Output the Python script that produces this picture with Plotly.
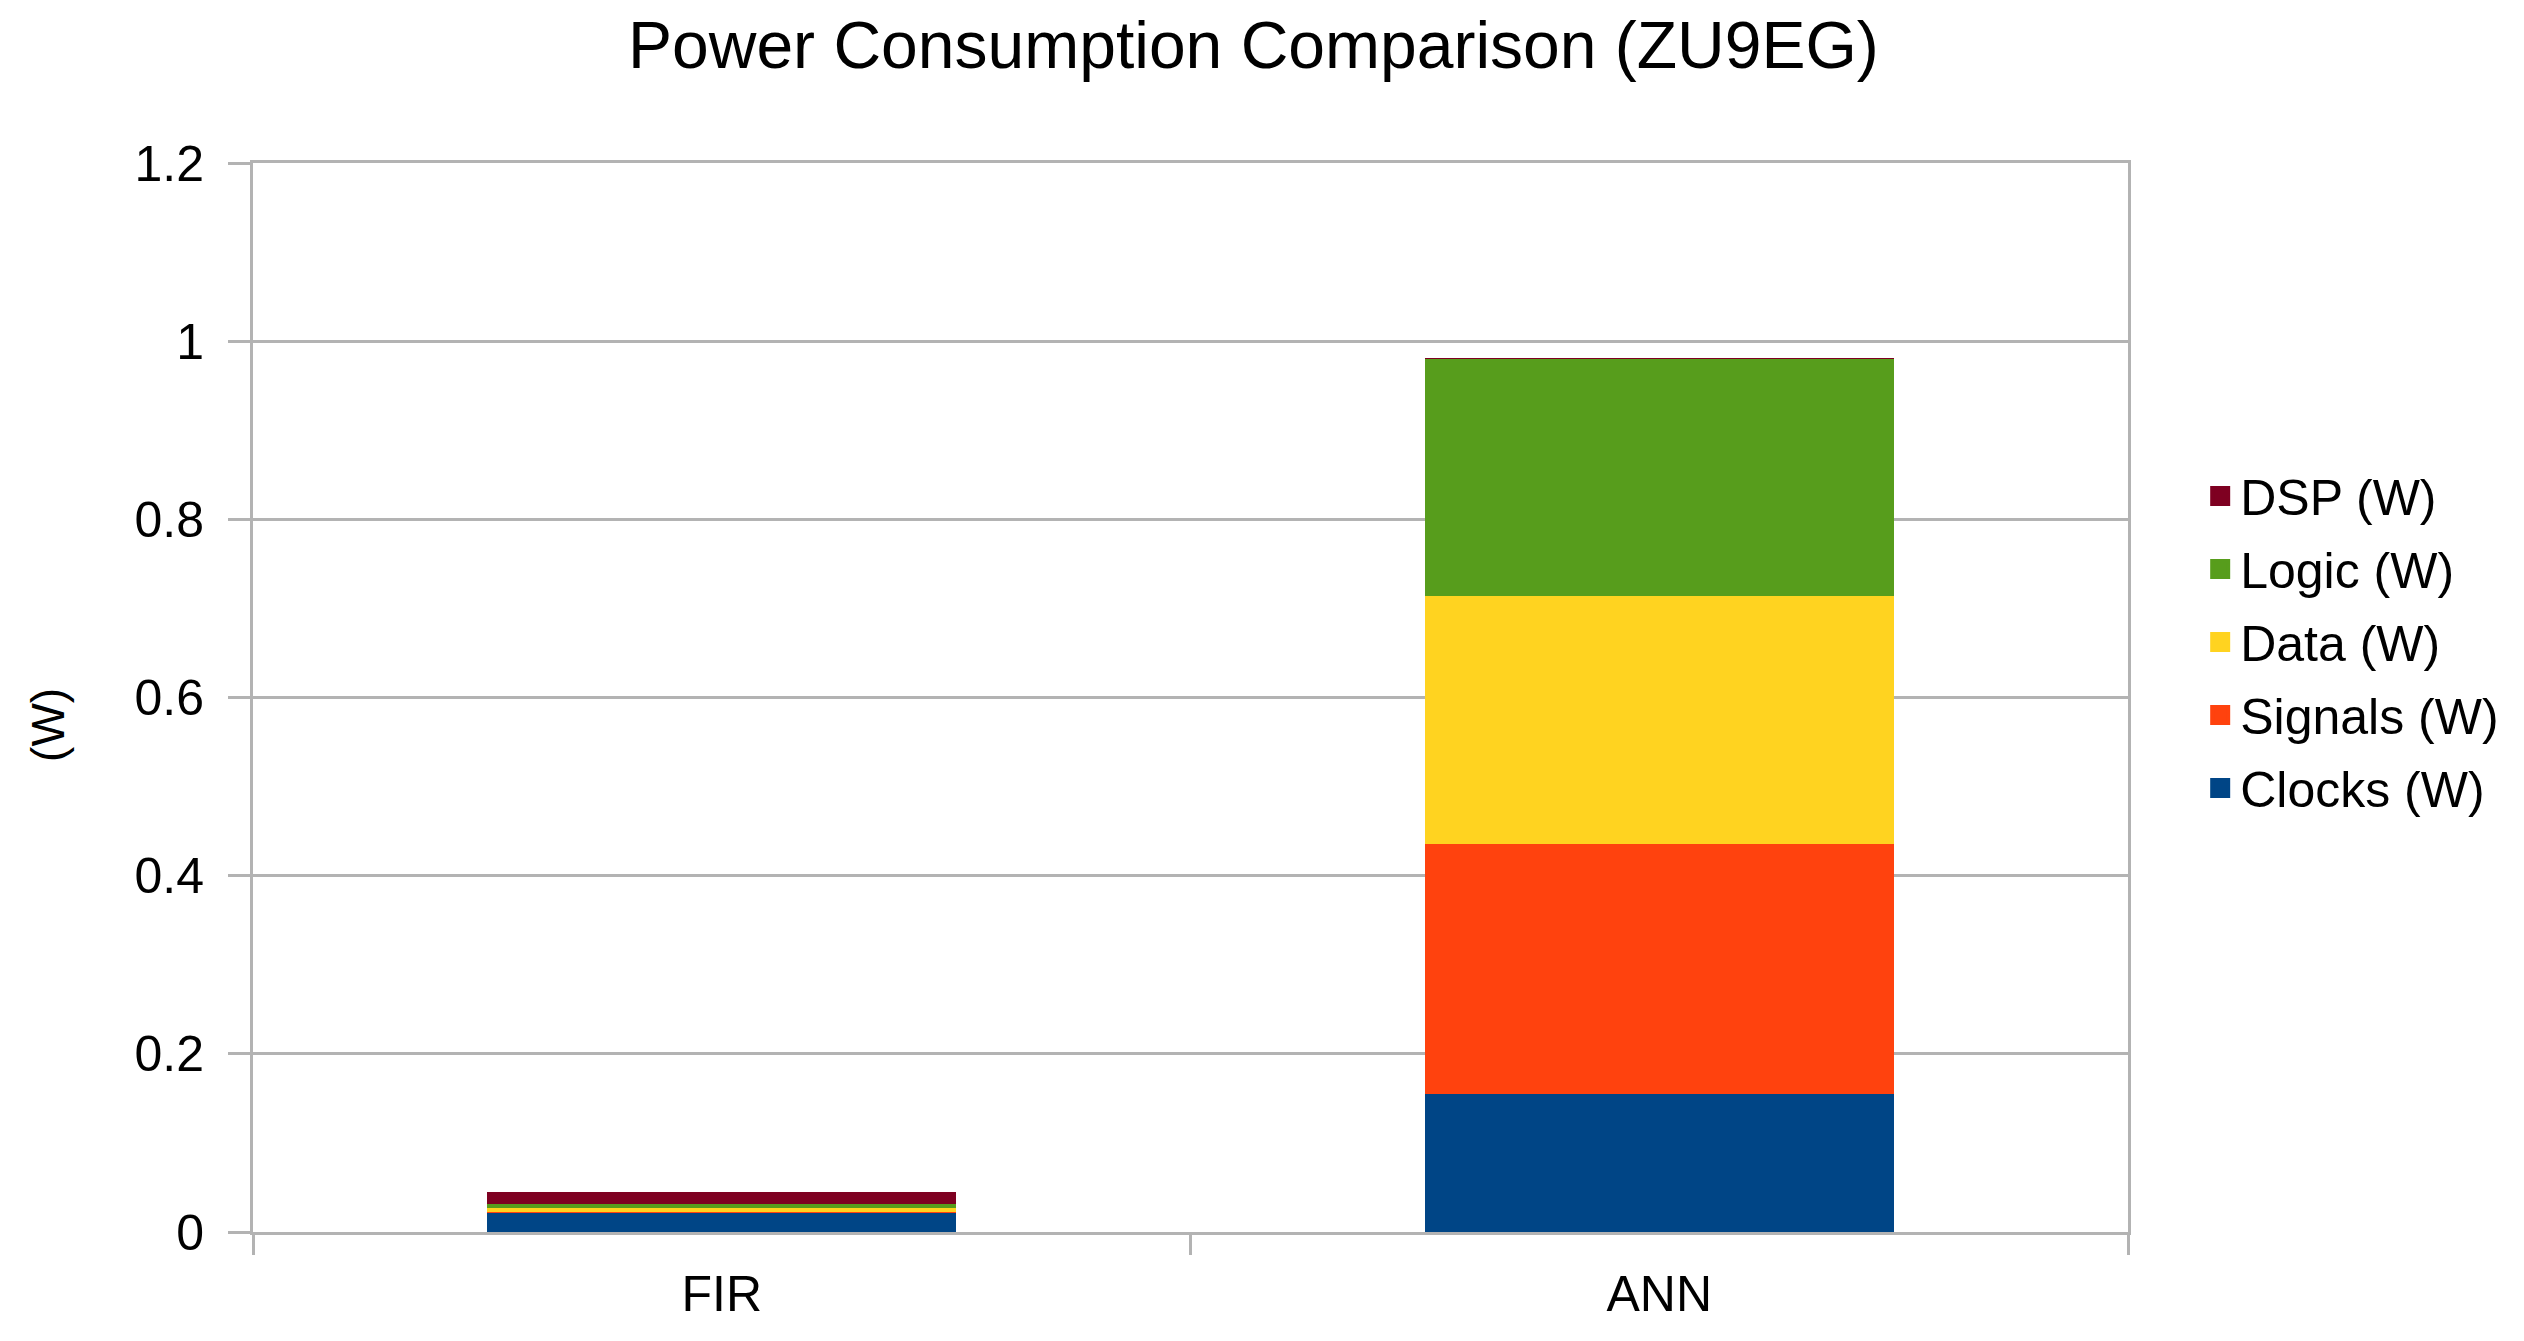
import plotly.graph_objects as go

categories = ["FIR", "ANN"]
series_names = ["Clocks (W)", "Signals (W)", "Data (W)", "Logic (W)", "DSP (W)"]
clocks = [0.022, 0.155]
signals = [0.001, 0.281]
data = [0.004, 0.278]
logic = [0.004, 0.266]
dsp = [0.014, 0.0003]
series_values = [clocks, signals, data, logic, dsp]
colors = ["#004586", "#ff420e", "#ffd320", "#579d1c", "#7e0021"]

FONT = "Liberation Sans, Arial, sans-serif"
GRID = "#b3b3b3"

fig = go.Figure()
n = len(series_names)
for i, (name, vals, col) in enumerate(zip(series_names, series_values, colors)):
    fig.add_trace(go.Bar(
        x=categories, y=vals, name=name,
        marker=dict(color=col, line=dict(width=0)),
        legendgroup=f"g{i}", showlegend=False,
    ))
# legend entries (square swatches)
for i, (name, col) in enumerate(zip(series_names, colors)):
    fig.add_trace(go.Scatter(
        x=[None], y=[None], mode="markers", name=name,
        marker=dict(symbol="square", size=16, color=col, line=dict(width=4, color=col)),
        legendgroup=f"g{i}", legendrank=n - i, showlegend=True, hoverinfo="skip",
    ))

fig.update_layout(
    width=2516, height=1333,
    barmode="stack", bargap=0.5,
    paper_bgcolor="white", plot_bgcolor="white",
    margin=dict(l=245, r=396, t=155, b=109, autoexpand=False),
    font=dict(family=FONT, size=50, color="#000000"),
    title=dict(text="Power Consumption Comparison (ZU9EG)", x=0.495, xref="container",
               xanchor="center", y=0.972, yref="container", yanchor="middle",
               font=dict(family=FONT, size=66, color="#000000")),
    legend=dict(x=1.0385, xanchor="left", y=0.552, yanchor="middle",
                traceorder="grouped", tracegroupgap=5, itemsizing="trace",
                font=dict(family=FONT, size=50, color="#000000"),
                bgcolor="rgba(0,0,0,0)", borderwidth=0),
    showlegend=True,
)

fig.update_yaxes(
    range=[0, 1.2], dtick=0.2, tick0=0,
    showgrid=True, gridcolor=GRID, gridwidth=3,
    showline=True, linecolor=GRID, linewidth=3, mirror=True,
    ticks="outside", ticklen=22, tickcolor=GRID, tickwidth=3,
    ticklabelstandoff=14, zeroline=False,
    tickfont=dict(family=FONT, size=50, color="#000000"),
)
fig.update_xaxes(
    type="category", categoryorder="array", categoryarray=categories,
    showline=True, linecolor=GRID, linewidth=3, mirror=True,
    ticks="outside", ticklen=20, tickcolor=GRID, tickwidth=3,
    tickson="boundaries", showgrid=False,
    ticklabelstandoff=16,
    tickfont=dict(family=FONT, size=50, color="#000000"),
)

fig.add_annotation(
    text="(W)", xref="paper", yref="paper", x=-0.109, y=0.474,
    xanchor="center", yanchor="middle", textangle=-90, showarrow=False,
    font=dict(family=FONT, size=46, color="#000000"),
)

fig.write_html("out.html")
